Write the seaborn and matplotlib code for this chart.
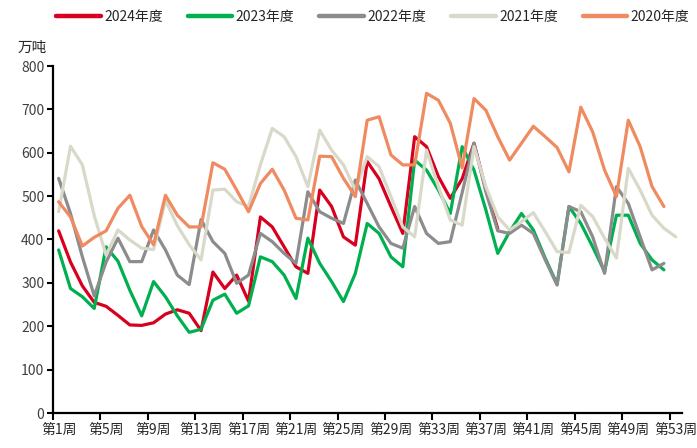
import numpy as np
import pandas as pd
import matplotlib
matplotlib.use("Agg")
import matplotlib.pyplot as plt
import seaborn as sns

nan = np.nan
weeks = list(range(1, 54))
week_labels = [f"第{w}周" for w in range(1, 54, 4)]
series_names = ["2024年度", "2023年度", "2022年度", "2021年度", "2020年度"]
colors = ["#D7001E", "#00B050", "#8C8C8C", "#D9D9C9", "#F08A60"]

v2024 = [420, 348, 293, 255, 246, 225, 203, 202, 208, 228, 238, 230, 190, 325, 287, 318, 258, 452, 429, 383,
         337, 322, 514, 476, 406, 387, 580, 540, 476, 414, 637, 614, 545, 495, 540, 622, 515, 425]
v2023 = [376, 287, 268, 241, 383, 350, 283, 224, 303, 268, 224, 186, 193, 260, 274, 230, 247, 360, 349, 318,
         264, 403, 345, 303, 257, 322, 437, 414, 360, 337, 583, 560, 514, 460, 614, 560, 468, 368, 418, 460,
         422, 357, 297, 476, 437, 383, 326, 456, 456, 391, 353, 330]
v2022 = [541, 460, 360, 270, 348, 403, 349, 349, 422, 376, 318, 296, 446, 395, 368, 299, 318, 414, 395, 368,
         345, 510, 464, 449, 437, 537, 483, 429, 391, 380, 476, 414, 391, 395, 508, 622, 510, 420, 414, 433,
         414, 353, 295, 476, 464, 406, 322, 522, 483, 406, 330, 345]
v2021 = [464, 615, 572, 455, 364, 422, 399, 380, 377, 490, 432, 388, 353, 514, 516, 487, 476, 572, 656, 637,
         591, 522, 652, 606, 572, 514, 591, 568, 499, 429, 406, 606, 522, 445, 433, 614, 522, 452, 422, 441,
         462, 418, 372, 370, 479, 453, 403, 357, 564, 514, 456, 426, 406]
v2020 = [487, 452, 385, 405, 420, 472, 502, 430, 388, 502, 456, 429, 429, 577, 562, 514, 464, 529, 562, 514,
         449, 445, 592, 591, 541, 499, 675, 683, 595, 572, 572, 737, 721, 668, 565, 725, 698, 637, 583, 622,
         661, 637, 612, 556, 705, 648, 560, 499, 675, 614, 522, 476]

all_vals = [v2024, v2023, v2022, v2021, v2020]
rows = []
for name, vals in zip(series_names, all_vals):
    for w, v in zip(weeks, vals):
        rows.append({"周": w, "值": v, "年度": name})
df = pd.DataFrame(rows)

sns.set_style("white")
plt.rcParams["font.family"] = ["Noto Sans CJK SC", "DejaVu Sans"]

fig = plt.figure(figsize=(6.97, 4.48), dpi=100)
ax = fig.add_axes([52.7 / 697, 35 / 448, 629 / 697, 347 / 448])

sns.lineplot(data=df, x="周", y="值", hue="年度", hue_order=series_names,
             palette=dict(zip(series_names, colors)), linewidth=2.3, ax=ax,
             legend=False, estimator=None, sort=False)

ax.set_xlim(0.5, 53.5)
ax.set_ylim(0, 800)
ax.set_xlabel("")
ax.set_ylabel("")

ax.set_xticks(np.arange(0.5, 53, 4))
ax.set_xticklabels([])
ax.set_xticks(list(range(1, 54, 4)), minor=True)
ax.set_xticklabels(week_labels, minor=True, fontsize=10, color="#262626")
ax.tick_params(axis="x", which="major", direction="out", length=5, width=1.5, color="black", bottom=True)
ax.tick_params(axis="x", which="minor", length=0, pad=7)

ax.set_yticks(range(0, 801, 100))
ax.set_yticklabels([str(v) for v in range(0, 801, 100)], fontsize=10, color="#404040")
ax.tick_params(axis="y", direction="out", length=4, width=1.5, color="black", left=True, pad=2)

for s in ["top", "right"]:
    ax.spines[s].set_visible(False)
for s in ["left", "bottom"]:
    ax.spines[s].set_color("black")
    ax.spines[s].set_linewidth(1.6)
ax.grid(False)

from matplotlib.lines import Line2D
handles = [Line2D([0], [0], color=c, lw=3.2) for c in colors]
fig.legend(handles, series_names, loc="center", bbox_to_anchor=(0.535, 1 - 17 / 448), ncol=5,
           frameon=False, fontsize=10, handlelength=3.2, handletextpad=0.25, columnspacing=1.8,
           labelcolor="#262626")

fig.text(18 / 697, 1 - 48 / 448, "万吨", fontsize=10.5, va="center", ha="left", color="#262626")

fig.savefig("out.png", dpi=100)
